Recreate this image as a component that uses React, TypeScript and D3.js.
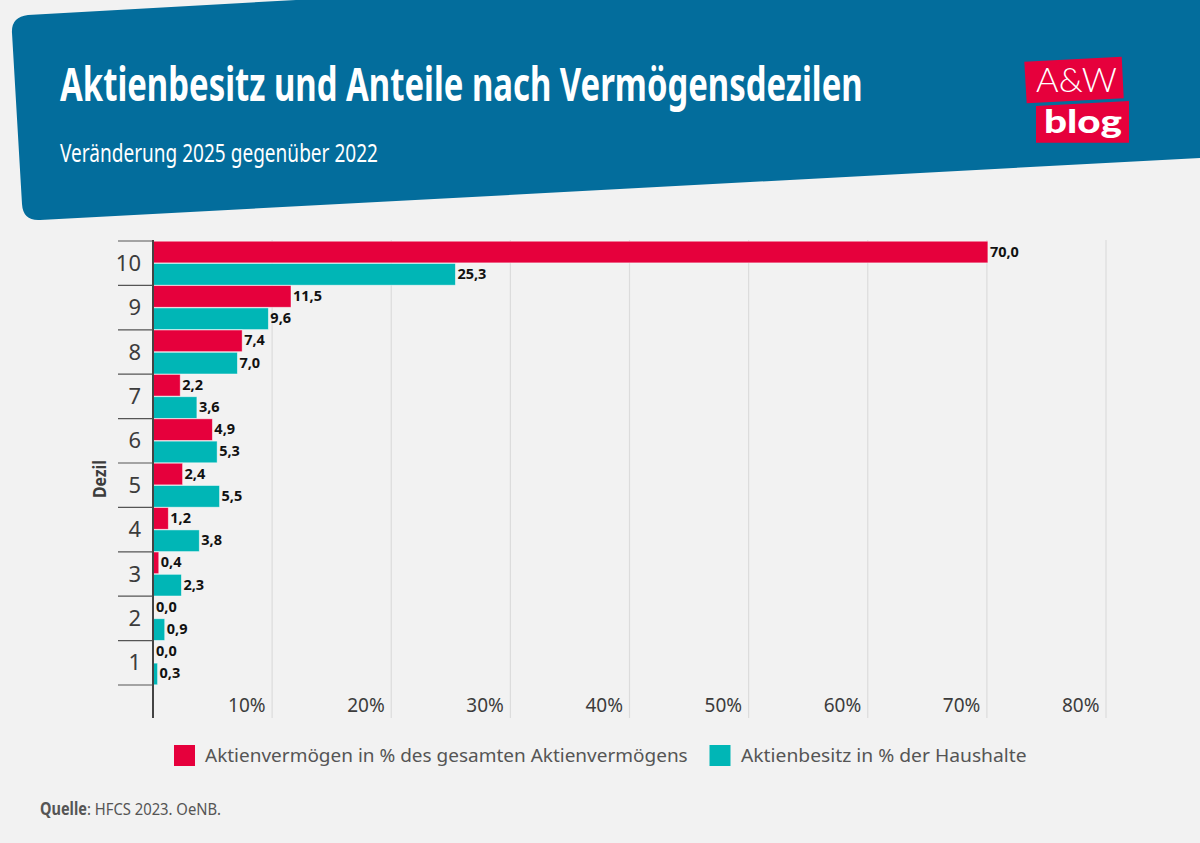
import React, { useLayoutEffect, useRef } from "react";
import * as d3 from "d3";

const deciles = ["10", "9", "8", "7", "6", "5", "4", "3", "2", "1"];
const assetShare = [70.0, 11.5, 7.4, 2.2, 4.9, 2.4, 1.2, 0.4, 0.0, 0.0];
const householdShare = [25.3, 9.6, 7.0, 3.6, 5.3, 5.5, 3.8, 2.3, 0.9, 0.3];
const xTicks = [10, 20, 30, 40, 50, 60, 70, 80];

const W = 1200, H = 843;
const BG = "#f2f2f2", BLUE = "#036d9c", RED = "#e6003c", TEAL = "#00b6b6", DARK = "#3c3c3c", GREY = "#555";
const FONT = "'Noto Sans', sans-serif";

const x = d3.scaleLinear().domain([0, 80]).range([153, 1106]);
const y = d3.scaleBand().domain(deciles).range([241, 685]).paddingInner(0).paddingOuter(0);
const sub = d3.scaleBand().domain(["a", "h"]).range([0, y.bandwidth()]).paddingInner(0.03).paddingOuter(0.01);
const fmt = (v: number) => v.toFixed(1).replace(".", ",");

const headerPath = "M12 33 Q11 17 28 15 L296 0 L1200 0 L1200 158 L40 220 Q23 221 22 204 Z";

// Text fitted to a measured width by horizontal scaling, so its box is the drawn box.
function T({ x, y, w, size, weight, fill, children, rotate, family }: any) {
  const ref = useRef<SVGTextElement>(null);
  useLayoutEffect(() => {
    const el = ref.current!;
    const sx = w / el.getComputedTextLength();
    el.setAttribute("transform", `translate(${x},${y})${rotate ? ` rotate(${rotate})` : ""} scale(${sx},1)`);
  });
  return (
    <text ref={ref} fontSize={size} fontWeight={weight} fill={fill} fontFamily={family || FONT}>{children}</text>
  );
}

export default function App() {
  return (
    <svg width={W} height={H} viewBox={`0 0 ${W} ${H}`} style={{ position: "absolute", left: 0, top: 0, display: "block" }}>
      <rect width={W} height={H} fill={BG} />
      <path d={headerPath} fill={BLUE} />
      <T x={60} y={101} w={803} size={46} weight={700} fill="#fff">Aktienbesitz und Anteile nach Vermögensdezilen</T>
      <T x={60} y={162} w={318} size={25.5} weight={400} fill="#fff">Veränderung 2025 gegenüber 2022</T>

      <polygon points="1024.3,61.7 1121.7,56.7 1123.7,98.3 1026.7,103.3" fill={RED} />
      <polygon points="1036,106 1129,101 1129,142.7 1036,142.7" fill={RED} />
      <T x={1036} y={92} w={81} size={33} weight={300} fill="#fff" family="Lato, sans-serif">A&amp;W</T>
      <T x={1044} y={133} w={78} size={32} weight={900} fill="#fff" family="Lato, sans-serif">blog</T>

      {xTicks.map((t) => (
        <g key={t}>
          <line x1={x(t)} x2={x(t)} y1={240} y2={718} stroke="#dcdcdc" strokeWidth={1.2} />
          <text x={x(t) - 6.5} y={711.5} fontSize={19} textAnchor="end" fill={DARK} fontFamily={FONT}>{t}%</text>
        </g>
      ))}

      {deciles.map((d, i) => {
        const y0 = y(d)!;
        return (
          <g key={d}>
            <rect x={x(0)} y={y0 + sub("a")!} width={x(assetShare[i]) - x(0) + 1} height={sub.bandwidth()} fill={RED} stroke="#fff" strokeOpacity={0.55} strokeWidth={0.8} opacity={assetShare[i] > 0 ? 1 : 0} />
            <rect x={x(0)} y={y0 + sub("h")!} width={x(householdShare[i]) - x(0) + 1} height={sub.bandwidth()} fill={TEAL} stroke="#fff" strokeOpacity={0.55} strokeWidth={0.8} />
            <text x={x(assetShare[i]) + 3} y={y0 + sub("a")! + sub.bandwidth() / 2 + 4.5} fontSize={14.5} fontWeight={700} fill="#111" fontFamily={FONT}>{fmt(assetShare[i])}</text>
            <text x={x(householdShare[i]) + 3} y={y0 + sub("h")! + sub.bandwidth() / 2 + 4.5} fontSize={14.5} fontWeight={700} fill="#111" fontFamily={FONT}>{fmt(householdShare[i])}</text>
            <text x={141} y={y0 + y.bandwidth() / 2 + 7.5} fontSize={22} textAnchor="end" fill={DARK} fontFamily={FONT}>{d}</text>
            <line x1={118} x2={153} y1={y0} y2={y0} stroke={GREY} strokeWidth={1.2} />
          </g>
        );
      })}
      <line x1={118} x2={153} y1={685} y2={685} stroke={GREY} strokeWidth={1.2} />
      <line x1={x(0)} x2={x(0)} y1={240} y2={718} stroke="#444" strokeWidth={2} />

      <T x={106} y={498} w={38} size={17} weight={700} fill={DARK} rotate={-90}>Dezil</T>

      <rect x={174} y={745} width={21} height={21} fill={RED} />
      <T x={205} y={762} w={483} size={19} fill={GREY}>Aktienvermögen in % des gesamten Aktienvermögens</T>
      <rect x={709.5} y={745} width={21} height={21} fill={TEAL} />
      <T x={741} y={762} w={286} size={19} fill={GREY}>Aktienbesitz in % der Haushalte</T>

      <T x={40} y={815} w={47} size={17} weight={700} fill={GREY}>Quelle</T>
      <T x={87} y={815} w={134} size={17} fill={GREY}>: HFCS 2023. OeNB.</T>
    </svg>
  );
}
